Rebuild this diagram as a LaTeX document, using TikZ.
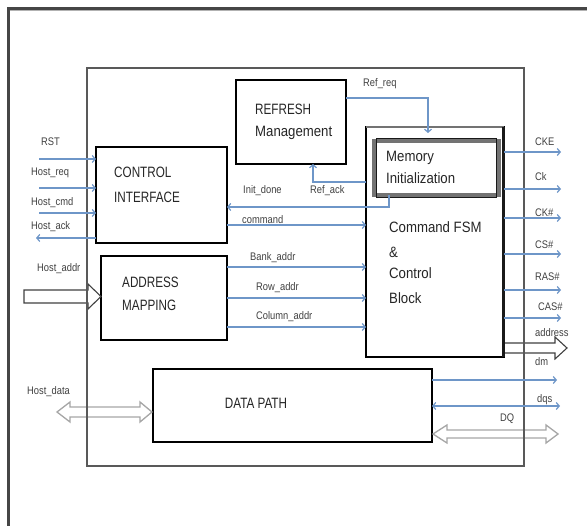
\documentclass[tikz,border=0pt]{standalone}
\usepackage{fontspec}
\newfontfamily\capsf{Liberation Sans}[FakeStretch=0.78]
\newfontfamily\mixf{Liberation Sans}[FakeStretch=0.88]
\newfontfamily\labf{Liberation Sans}[FakeStretch=0.85]
\usetikzlibrary{arrows.meta}
\definecolor{sigblue}{RGB}{110,150,200}
\definecolor{framegray}{RGB}{70,70,70}
\tikzset{
  box/.style={draw=black, line width=1.6pt, fill=white, rectangle, anchor=north west, inner sep=0pt, outer sep=0pt},
  bigcaps/.style={anchor=base west, inner sep=0pt, font=\capsf\fontsize{15}{18}\selectfont, text=black!85},
  bigmix/.style={anchor=base west, inner sep=0pt, font=\mixf\fontsize{15}{18}\selectfont, text=black!85},
  lab/.style={anchor=base west, inner sep=0pt, font=\labf\fontsize{11}{13}\selectfont, text=black!75},
  sig/.style={draw=sigblue, line width=1.2pt, -{Straight Barb[length=3pt,width=7pt]}},
  sigboth/.style={draw=sigblue, line width=1.2pt, {Straight Barb[length=3pt,width=7pt]}-{Straight Barb[length=3pt,width=7pt]}},
  hollowdark/.style={draw=black!75, line width=1.1pt, fill=white},
  hollowlight/.style={draw=black!35, line width=1.3pt, fill=white}
}
\begin{document}
\begin{tikzpicture}[x=1pt,y=-1pt]
\useasboundingbox (0,0) rectangle (587,526);
% outer frame (top and left visible)
\draw[draw=framegray, line width=2.2pt] (8.5,526) -- (8.5,8.5) -- (587,8.5);
\draw[draw=black!30, line width=1pt] (9.6,10.4) -- (587,10.4);
% module box
\node[box, draw=black!65, line width=2.2pt, fill=none, minimum width=437, minimum height=398] (mod) at (87,68) {};

% boxes
\node[box, minimum width=131, minimum height=96] (ci) at (96,147) {};
\node[box, minimum width=126, minimum height=84] (am) at (101,256) {};
\node[box, minimum width=279, minimum height=73] (dp) at (153,369) {};
\node[box, minimum width=110, minimum height=84] (rm) at (236,80) {};
\node[box, minimum width=138, minimum height=230] (fsm) at (366,127) {};
\draw[draw=black!55, line width=2.6pt] (fsm.north west) -- (fsm.north east);
\draw[draw=black!90, line width=3.2pt] ([xshift=-0.8pt]fsm.north east) -- ([xshift=-0.8pt]fsm.south east);
\node[box, draw=black!55, line width=4pt, minimum width=125, minimum height=54] (mi) at (374,141) {};
\draw[draw=black!90, line width=1.2pt] ([shift={(2.2,-2.2)}]mi.north west) rectangle ([shift={(-2.2,2.2)}]mi.south east);

% box texts
\node[bigcaps] (t1) at (114,178) {CONTROL};
\node[bigcaps] (t2) at (114,203) {INTERFACE};
\node[bigcaps] (t3) at (122,288) {ADDRESS};
\node[bigcaps] (t4) at (122,311) {MAPPING};
\node[bigcaps] (t5) at (255,115) {REFRESH};
\node[bigmix] (t6) at (255,137) {Management};
\node[bigmix] (t7) at (386,162) {Memory};
\node[bigmix] (t8) at (386,184) {Initialization};
\node[bigmix] (t9) at (389,233) {Command FSM};
\node[bigmix] (t10) at (389,258) {\&};
\node[bigmix] (t11) at (389,279) {Control};
\node[bigmix] (t12) at (389,304) {Block};
\node[bigcaps, anchor=base] (t13) at (256,409) {DATA PATH};

% left labels
\node[lab] (lRST) at (41,146) {RST};
\node[lab] (lreq) at (31,176) {Host\_req};
\node[lab] (lcmd) at (31,206) {Host\_cmd};
\node[lab] (lack) at (31,230) {Host\_ack};
\node[lab] (laddr) at (37,272) {Host\_addr};
\node[lab] (ldata) at (27,395) {Host\_data};
% middle labels
\node[lab] (lrefreq) at (363,87) {Ref\_req};
\node[lab] (linit) at (243,194) {Init\_done};
\node[lab] (lrefack) at (310,194) {Ref\_ack};
\node[lab] (lcommand) at (242,224) {command};
\node[lab] (lbank) at (250,261) {Bank\_addr};
\node[lab] (lrow) at (256,291) {Row\_addr};
\node[lab] (lcol) at (256,320) {Column\_addr};
% right labels
\node[lab] (lcke) at (535,146) {CKE};
\node[lab] (lck) at (535,181) {Ck};
\node[lab] (lckn) at (535,217) {CK\#};
\node[lab] (lcs) at (535,249) {CS\#};
\node[lab] (lras) at (535,281) {RAS\#};
\node[lab] (lcas) at (538,311) {CAS\#};
\node[lab] (ladr) at (535,337) {address};
\node[lab] (ldm) at (535,366) {dm};
\node[lab] (ldqs) at (537,403) {dqs};
\node[lab] (ldq) at (500,422) {DQ};

% free ends
\coordinate (pRST) at (39,159);
\coordinate (preq) at (39,188);
\coordinate (pcmd) at (39,213);
\coordinate (pack) at (36,238);
\coordinate (ycommand) at (0,225);
\coordinate (ybank) at (0,267);
\coordinate (yrow) at (0,298);
\coordinate (ycol) at (0,327);
\coordinate (yrefreq) at (0,98);
\coordinate (xrefreq) at (428,0);
\coordinate (yrefack) at (0,182);
\coordinate (xrefack) at (313,0);
\coordinate (xinit) at (389,0);
\coordinate (yinit) at (0,207);
\coordinate (ocke) at (561,152);
\coordinate (ock) at (561,189);
\coordinate (ockn) at (561,218);
\coordinate (ocs) at (561,254);
\coordinate (oras) at (561,290);
\coordinate (ocas) at (561,318);
\coordinate (odm) at (557,380);
\coordinate (odqs) at (560,406);

% left signals
\draw[sig] (pRST) -- (ci.west |- pRST);
\draw[sig] (preq) -- (ci.west |- preq);
\draw[sig] (pcmd) -- (ci.west |- pcmd);
\draw[sig] (ci.west |- pack) -- (pack);
% middle signals
\draw[sig] (ci.east |- ycommand) -- (fsm.west |- ycommand);
\draw[sig] (am.east |- ybank) -- (fsm.west |- ybank);
\draw[sig] (am.east |- yrow) -- (fsm.west |- yrow);
\draw[sig] (am.east |- ycol) -- (fsm.west |- ycol);
\draw[sig] (rm.east |- yrefreq) -- (xrefreq |- yrefreq) -- ([yshift=-6pt]xrefreq |- fsm.north);
\draw[sig] (fsm.west |- yrefack) -- (xrefack |- yrefack) -- (xrefack |- rm.south);
\draw[sig] (xinit |- mi.south) -- (xinit |- yinit) -- (ci.east |- yinit);
% right signals
\draw[sig] (fsm.east |- ocke) -- (ocke);
\draw[sig] (fsm.east |- ock) -- (ock);
\draw[sig] (fsm.east |- ockn) -- (ockn);
\draw[sig] (fsm.east |- ocs) -- (ocs);
\draw[sig] (fsm.east |- oras) -- (oras);
\draw[sig] (fsm.east |- ocas) -- (ocas);
\draw[sig] (dp.east |- odm) -- (odm);
\draw[sigboth] (dp.east |- odqs) -- (odqs);

% hollow bus arrows
\draw[hollowdark] (24,290) -- (88,290) -- (88,284) -- (101,296.5) -- (88,309) -- (88,303) -- (24,303) -- cycle;
\draw[hollowdark] (505,343) -- (555,343) -- (555,337) -- (567,348) -- (555,359) -- (555,353) -- (505,353);
\draw[hollowlight] (57,412) -- (70,402) -- (70,407) -- (140,407) -- (140,402) -- (152,412) -- (140,422) -- (140,417) -- (70,417) -- (70,422) -- cycle;
\draw[hollowlight] (433,434) -- (447,425) -- (447,430) -- (546,430) -- (546,425) -- (558,434) -- (546,443) -- (546,438) -- (447,438) -- (447,443) -- cycle;
% module frame lines drawn over buses
\draw[draw=black!65, line width=2.2pt] (87,280) -- (87,320);
\draw[draw=black!65, line width=2.2pt] (87,398) -- (87,428);
\draw[draw=black!65, line width=2.2pt] (524,330) -- (524,365);
\draw[draw=black!65, line width=2.2pt] (524,420) -- (524,450);
\end{tikzpicture}
\end{document}
